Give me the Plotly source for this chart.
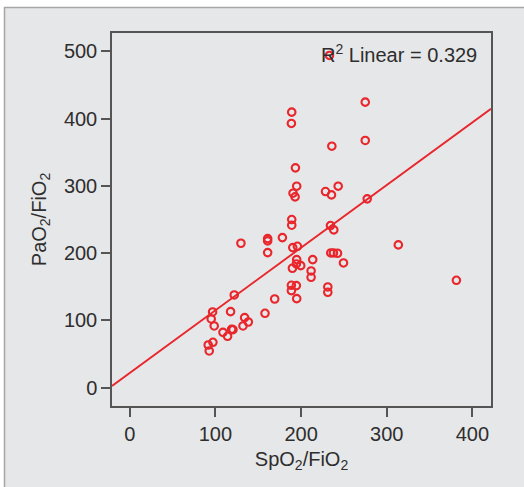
import plotly.graph_objects as go

# SpO2/FiO2 vs PaO2/FiO2 readings
spo2_fio2 = [233.1, 274.9, 189.1, 188.7, 274.9, 235.9, 193.4, 194.9, 243.3, 228.5,
             190.6, 235.5, 193.0, 277.2, 189.1, 189.1, 234.3, 238.2, 129.8, 161.0,
             161.0, 178.2, 161.0, 190.3, 195.7, 213.6, 194.9, 194.5, 199.6, 189.9,
             211.7, 211.7, 249.5, 234.7, 237.8, 242.5, 313.5, 381.3, 188.7, 194.5,
             188.7, 231.2, 231.2, 194.9, 169.2, 122.0, 157.9, 117.7, 96.7, 95.1,
             98.6, 134.1, 138.4, 132.2, 108.8, 118.9, 120.5, 114.2, 97.1, 91.6,
             92.8]
pao2_fio2 = [494.0, 424.6, 409.7, 392.9, 367.6, 359.1, 326.9, 299.6, 299.6, 291.7,
             289.2, 286.7, 283.7, 280.8, 250.0, 241.6, 241.1, 234.6, 214.8, 221.7,
             218.3, 223.2, 200.9, 208.3, 210.3, 190.5, 190.5, 184.0, 181.5, 177.6,
             173.6, 164.2, 185.5, 200.4, 200.4, 199.9, 212.3, 159.7, 152.3, 151.8,
             144.3, 149.8, 141.9, 132.4, 131.9, 137.9, 110.6, 113.1, 112.6, 102.2,
             91.8, 104.2, 97.7, 91.8, 82.3, 86.8, 86.3, 76.4, 67.5, 63.5,
             54.6]

fit_intercept = 21.8
fit_slope = 0.932
r_squared = 0.329

x_range = [-20.7, 421.7]
y_range = [-27.2, 527.4]

red = "#e8262b"
ink = "#2e2e2e"
font_family = "Arial, Liberation Sans, sans-serif"

fig = go.Figure()
fig.add_trace(go.Scatter(x=spo2_fio2, y=pao2_fio2, mode="markers",
                         marker=dict(symbol="circle-open", size=7.5, color=red, line=dict(width=2.1, color=red)),
                         showlegend=False, cliponaxis=False))
fig.add_trace(go.Scatter(x=x_range, y=[fit_intercept + fit_slope * v for v in x_range], mode="lines",
                         line=dict(color=red, width=1.9), showlegend=False))

# grey panel with a thin frame behind everything
fig.add_shape(type="rect", xref="paper", yref="paper", x0=-0.2836, x1=1.3, y0=-0.4, y1=1.0684,
              fillcolor="#e6e7e9", line=dict(color="#a6a6a6", width=1.5), layer="below")

fig.add_annotation(text=f"R<sup>2</sup> Linear = {r_squared}", xref="paper", yref="paper",
                   x=0.968, y=0.944, xanchor="right", yanchor="middle", showarrow=False,
                   font=dict(size=20, color=ink, family=font_family))

axis_common = dict(showgrid=False, zeroline=False, showline=True, mirror=True, linecolor="#555555", linewidth=1.5,
                   ticks="outside", ticklen=9, tickwidth=1.5, tickcolor="#555555",
                   tickfont=dict(size=20, color=ink, family=font_family))

fig.update_layout(
    width=524, height=487,
    margin=dict(l=112, r=33, t=33, b=81),
    paper_bgcolor="white", plot_bgcolor="white",
    xaxis=dict(range=x_range, tickvals=[0, 100, 200, 300, 400],
               title=dict(text="SpO<sub>2</sub>/FiO<sub>2</sub>", standoff=8,
                          font=dict(size=20, color=ink, family=font_family)), **axis_common),
    yaxis=dict(range=y_range, tickvals=[0, 100, 200, 300, 400, 500],
               title=dict(text="PaO<sub>2</sub>/FiO<sub>2</sub>", standoff=12,
                          font=dict(size=20, color=ink, family=font_family)), **axis_common),
)

fig.write_html("out.html", config={"displayModeBar": False},
               post_script="document.body.style.margin='0';")
